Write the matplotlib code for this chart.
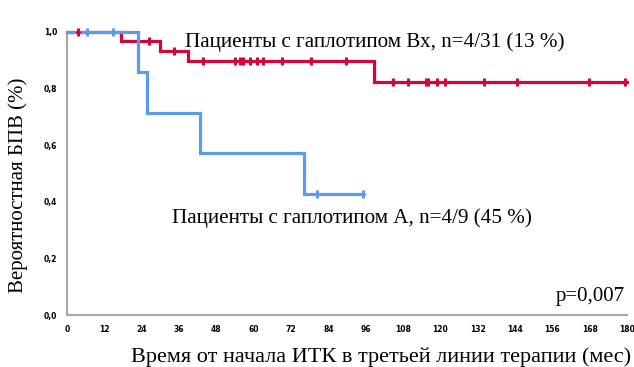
import matplotlib
matplotlib.use("Agg")
import matplotlib.pyplot as plt
import numpy as np

# Red group (haplotype Bx): step times and survival after each step
red_event_times = [17.4, 30.0, 38.8, 98.7]
red_surv = [0.968, 0.934, 0.897, 0.822]
red_end = 180.0
red_censor = [3.6, 26.5, 34.5, 43.6, 54.0, 55.6, 56.7, 58.8, 61.0, 63.1, 69.0,
              78.3, 89.6, 104.7, 109.7, 115.3, 116.0, 118.8, 121.6, 134.1,
              144.5, 167.7, 179.5]

# Blue group (haplotype A)
blue_event_times = [22.9, 25.8, 42.7, 76.3]
blue_surv = [0.857, 0.714, 0.571, 0.429]
blue_end = 95.2
blue_censor = [6.5, 14.7, 80.3, 95.2]

xticks = list(range(0, 181, 12))
yticks = [0.0, 0.2, 0.4, 0.6, 0.8, 1.0]
ytick_labels = ["0,0", "0,2", "0,4", "0,6", "0,8", "1,0"]

RED = "#D3053C"
BLUE = "#5C9BE6"


def step_xy(times, surv, end):
    xs = [0.0]
    ys = [1.0]
    cur = 1.0
    for t, s in zip(times, surv):
        xs += [t, t]
        ys += [cur, s]
        cur = s
    xs.append(end)
    ys.append(cur)
    return xs, ys


def surv_at(times, surv, t):
    cur = 1.0
    for tt, s in zip(times, surv):
        if t >= tt:
            cur = s
    return cur


fig = plt.figure(figsize=(6.34, 3.67), dpi=100)
ax = fig.add_axes([67 / 634, 1 - 315 / 367, (627 - 67) / 634, (315 - 32) / 367])

for times, surv, end, cens, col in [
    (red_event_times, red_surv, red_end, red_censor, RED),
    (blue_event_times, blue_surv, blue_end, blue_censor, BLUE),
]:
    xs, ys = step_xy(times, surv, end)
    ax.plot(xs, ys, color=col, lw=2.3, clip_on=False, solid_joinstyle="miter", zorder=3)
    cy = [surv_at(times, surv, c) for c in cens]
    ax.plot(cens, cy, ls="none", marker="|", ms=6, mew=2.2, color=col, clip_on=False, zorder=4)
    ax.plot(cens, cy, ls="none", marker="D", ms=3.0, mew=0, color=col, clip_on=False, zorder=4)

ax.set_xlim(0, 180)
ax.set_ylim(0, 1.0)
ax.set_xticks(xticks)
ax.set_xticklabels([str(v) for v in xticks], fontsize=5.5, fontweight="bold", family="DejaVu Sans")
ax.set_yticks(yticks)
ax.set_yticklabels(ytick_labels, fontsize=5.5, fontweight="bold", family="DejaVu Sans")
ax.tick_params(length=0, pad=7)
for s in ["top", "right"]:
    ax.spines[s].set_visible(False)
for s in ["left", "bottom"]:
    ax.spines[s].set_color("#A8A8A8")
    ax.spines[s].set_linewidth(1.5)

serif = "Liberation Serif"
fig.text(185 / 634, 1 - 42 / 367, "Пациенты с гаплотипом Вх, n=4/31 (13 %)",
         family=serif, fontsize=15.2, va="center", ha="left")
fig.text(172 / 634, 1 - 218 / 367, "Пациенты с гаплотипом А, n=4/9 (45 %)",
         family=serif, fontsize=15.2, va="center", ha="left")
fig.text(625 / 634, 1 - 297 / 367, "p=0,007", family=serif, fontsize=15, va="center", ha="right")
fig.text(381 / 634, 1 - 357 / 367, "Время от начала ИТК в третьей линии терапии (мес)",
         family=serif, fontsize=16, va="center", ha="center")
fig.text(18 / 634, 1 - 185 / 367, "Вероятностная БПВ (%)", family=serif, fontsize=15,
         va="center", ha="center", rotation=90)

fig.savefig("out.png", dpi=100)
